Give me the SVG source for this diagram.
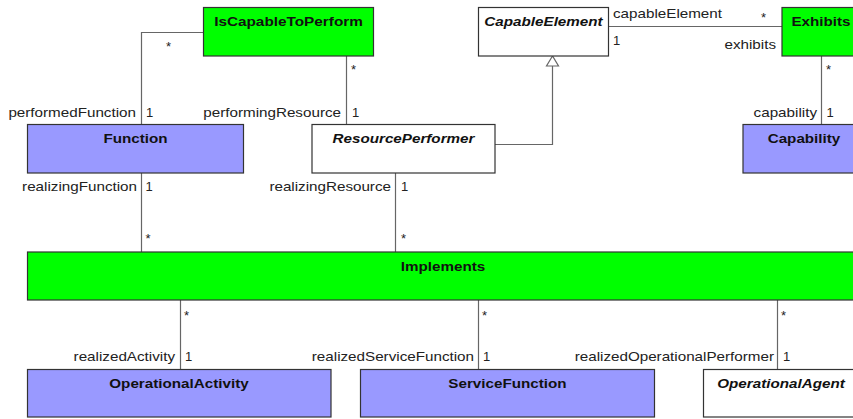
<svg xmlns="http://www.w3.org/2000/svg" width="853" height="419" viewBox="0 0 853 419">
<style>
.box{stroke:#333;stroke-width:1.2}
.g{fill:#00ff00}
.b{fill:#9999ff}
.w{fill:#ffffff}
.t{font-family:"Liberation Sans",Arial,sans-serif;font-size:13px;font-weight:bold;text-anchor:middle;fill:#111}
.it{font-style:italic}
.l{font-family:"Liberation Sans",Arial,sans-serif;font-size:13px;fill:#222}
.e{text-anchor:end}
.c{stroke:#666;stroke-width:1.2;fill:none}
</style>
<rect width="853" height="419" fill="#fff"/>
<g id="connectors">
<path class="c" d="M203,32.5 H141.5 V124"/>
<path class="c" d="M346.5,56 V124"/>
<path class="c" d="M495,144.5 H552.5 V66"/>
<polygon points="552.5,56 546.5,66 558.5,66" fill="#fff" stroke="#666" stroke-width="1.2"/>
<path class="c" d="M608,26.5 H782"/>
<path class="c" d="M821.5,56 V124"/>
<path class="c" d="M141.5,173 V252"/>
<path class="c" d="M395.5,173 V252"/>
<path class="c" d="M180.5,300 V369"/>
<path class="c" d="M478.5,300 V369"/>
<path class="c" d="M777.5,300 V369"/>
<text class="l" x="166" y="50.5">*</text>
<text class="l e" x="136" y="116.5" textLength="127.6" lengthAdjust="spacingAndGlyphs">performedFunction</text>
<text class="l" x="146" y="116.5">1</text>
<text class="l" x="351" y="73.5">*</text>
<text class="l e" x="341" y="116.5" textLength="137.7" lengthAdjust="spacingAndGlyphs">performingResource</text>
<text class="l" x="352" y="116.5">1</text>
<text class="l" x="613" y="17.5" textLength="109" lengthAdjust="spacingAndGlyphs">capableElement</text>
<text class="l" x="761" y="21.5">*</text>
<text class="l" x="613" y="45">1</text>
<text class="l e" x="776" y="49" textLength="51.5" lengthAdjust="spacingAndGlyphs">exhibits</text>
<text class="l" x="826" y="74">*</text>
<text class="l e" x="817" y="116.5" textLength="63.4" lengthAdjust="spacingAndGlyphs">capability</text>
<text class="l" x="826.5" y="116.5">1</text>
<text class="l e" x="137" y="190.5" textLength="114.9" lengthAdjust="spacingAndGlyphs">realizingFunction</text>
<text class="l" x="145.5" y="190.5">1</text>
<text class="l" x="145.5" y="243">*</text>
<text class="l e" x="391" y="190.5" textLength="121.6" lengthAdjust="spacingAndGlyphs">realizingResource</text>
<text class="l" x="401" y="190.5">1</text>
<text class="l" x="401" y="243">*</text>
<text class="l" x="184" y="319.5">*</text>
<text class="l e" x="175" y="361" textLength="101.4" lengthAdjust="spacingAndGlyphs">realizedActivity</text>
<text class="l" x="185" y="361">1</text>
<text class="l" x="482" y="319.5">*</text>
<text class="l e" x="474" y="361" textLength="162.2" lengthAdjust="spacingAndGlyphs">realizedServiceFunction</text>
<text class="l" x="483" y="361">1</text>
<text class="l" x="781" y="319.5">*</text>
<text class="l e" x="774" y="361" textLength="199.3" lengthAdjust="spacingAndGlyphs">realizedOperationalPerformer</text>
<text class="l" x="783" y="361">1</text>
</g>
<g id="IsCapableToPerform">
<rect class="box g" x="203.5" y="7.5" width="170" height="48.5"/>
<text class="t" x="288.5" y="26" textLength="148.7" lengthAdjust="spacingAndGlyphs">IsCapableToPerform</text>
</g>
<g id="CapableElement">
<rect class="box w" x="478.5" y="7.5" width="130" height="48.5"/>
<text class="t it" x="543.5" y="26" textLength="118.3" lengthAdjust="spacingAndGlyphs">CapableElement</text>
</g>
<g id="Exhibits">
<rect class="box g" x="782" y="7.5" width="80" height="48.5"/>
<text class="t" x="821" y="26" textLength="59.1" lengthAdjust="spacingAndGlyphs">Exhibits</text>
</g>
<g id="Function">
<rect class="box b" x="27.5" y="124.5" width="216" height="48.5"/>
<text class="t" x="135.5" y="143" textLength="64.2" lengthAdjust="spacingAndGlyphs">Function</text>
</g>
<g id="ResourcePerformer">
<rect class="box w" x="312" y="124.5" width="183" height="48.5"/>
<text class="t it" x="403.5" y="143" textLength="141.9" lengthAdjust="spacingAndGlyphs">ResourcePerformer</text>
</g>
<g id="Capability">
<rect class="box b" x="743" y="124.5" width="122" height="48.5"/>
<text class="t" x="804" y="143" textLength="72.6" lengthAdjust="spacingAndGlyphs">Capability</text>
</g>
<g id="Implements">
<rect class="box g" x="27.5" y="252" width="832" height="48"/>
<text class="t" x="443" y="270.5" textLength="84.5" lengthAdjust="spacingAndGlyphs">Implements</text>
</g>
<g id="OperationalActivity">
<rect class="box b" x="27.5" y="369.5" width="303.5" height="47.5"/>
<text class="t" x="179" y="388" textLength="139.4" lengthAdjust="spacingAndGlyphs">OperationalActivity</text>
</g>
<g id="ServiceFunction">
<rect class="box b" x="360.5" y="369.5" width="294" height="47.5"/>
<text class="t" x="507.5" y="388" textLength="118.3" lengthAdjust="spacingAndGlyphs">ServiceFunction</text>
</g>
<g id="OperationalAgent">
<rect class="box w" x="703.5" y="369.5" width="158" height="47.5"/>
<text class="t it" x="781" y="388" textLength="127.5" lengthAdjust="spacingAndGlyphs">OperationalAgent</text>
</g>
</svg>
